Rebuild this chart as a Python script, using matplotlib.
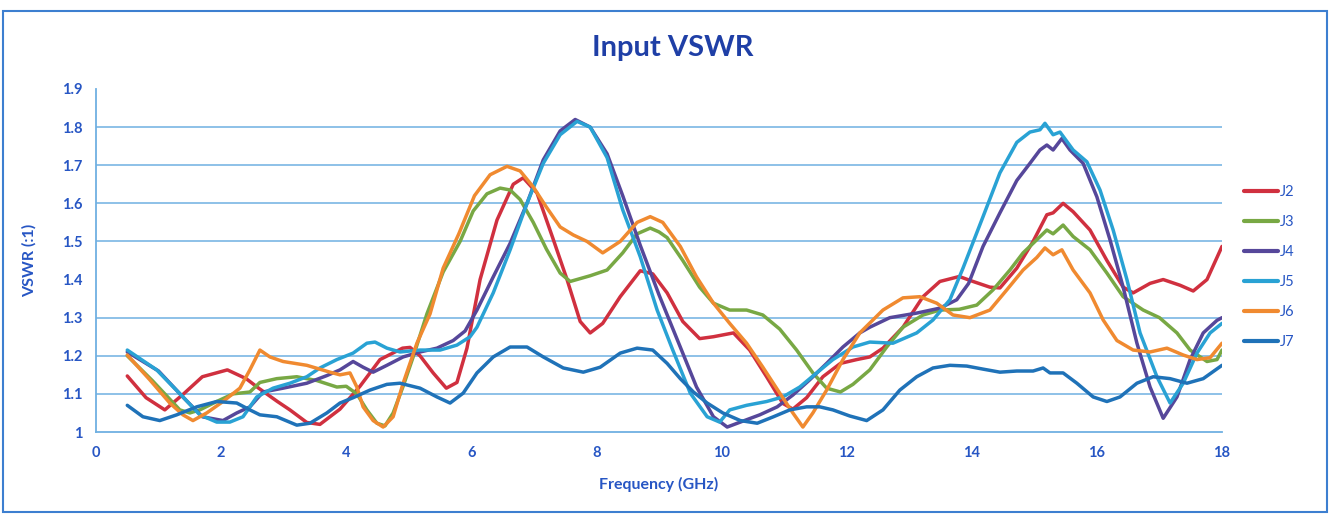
import matplotlib
matplotlib.use("Agg")
import matplotlib.pyplot as plt
from matplotlib.patches import Rectangle

# Input VSWR of six ports J2..J7 across 0.5-18 GHz

j2_f = [0.5, 0.8, 1.1, 1.4, 1.7, 2.1, 2.4, 2.6, 2.9, 3.1, 3.37, 3.58, 3.9, 4.22, 4.54, 4.9, 5.02, 5.18,
        5.39, 5.6, 5.77, 5.93, 6.14, 6.41, 6.67, 6.83, 7.05, 7.3, 7.53, 7.74, 7.9, 8.1, 8.38, 8.7, 8.9,
        9.13, 9.38, 9.65, 9.87, 10.19, 10.45, 10.72, 10.98, 11.14, 11.36, 11.62, 11.9, 12.16, 12.37,
        12.58, 12.9, 13.22, 13.49, 13.8, 14.02, 14.29, 14.45, 14.72, 14.98, 15.2, 15.3, 15.46, 15.62,
        15.89, 16.16, 16.42, 16.58, 16.85, 17.06, 17.33, 17.54, 17.76, 18.0]
j2_v = [1.147, 1.09, 1.058, 1.10, 1.145, 1.163, 1.14, 1.115, 1.08, 1.058, 1.025, 1.02, 1.06, 1.12, 1.19,
        1.22, 1.222, 1.20, 1.155, 1.115, 1.13, 1.22, 1.40, 1.556, 1.65, 1.667, 1.627, 1.51, 1.40, 1.29,
        1.26, 1.285, 1.355, 1.423, 1.415, 1.365, 1.29, 1.245, 1.25, 1.26, 1.215, 1.145, 1.075, 1.06,
        1.09, 1.145, 1.18, 1.19, 1.197, 1.22, 1.275, 1.355, 1.395, 1.408, 1.395, 1.38, 1.378, 1.43,
        1.50, 1.57, 1.575, 1.60, 1.578, 1.53, 1.45, 1.38, 1.365, 1.39, 1.40, 1.385, 1.37, 1.40, 1.487]

j3_f = [0.5, 0.9, 1.34, 1.5, 1.66, 1.93, 2.19, 2.46, 2.62, 2.89, 3.21, 3.53, 3.85, 4.0, 4.17, 4.33, 4.49,
        4.62, 4.75, 4.91, 5.07, 5.29, 5.55, 5.82, 6.03, 6.25, 6.46, 6.62, 6.78, 6.99, 7.2, 7.42, 7.58,
        7.9, 8.17, 8.42, 8.65, 8.86, 9.0, 9.13, 9.38, 9.65, 9.87, 10.13, 10.4, 10.66, 10.93, 11.2,
        11.46, 11.68, 11.9, 12.1, 12.37, 12.64, 12.9, 13.22, 13.49, 13.8, 14.08, 14.34, 14.61, 14.82,
        14.98, 15.2, 15.3, 15.46, 15.62, 15.89, 16.16, 16.42, 16.74, 17.0, 17.28, 17.49, 17.76, 17.92,
        18.0]
j3_v = [1.20, 1.135, 1.058, 1.05, 1.058, 1.08, 1.10, 1.105, 1.13, 1.14, 1.145, 1.135, 1.118, 1.12,
        1.10, 1.058, 1.023, 1.016, 1.05, 1.12, 1.197, 1.31, 1.42, 1.50, 1.58, 1.625, 1.64, 1.635, 1.61,
        1.55, 1.48, 1.417, 1.395, 1.41, 1.425, 1.47, 1.52, 1.535, 1.525, 1.51, 1.45, 1.38, 1.338, 1.32,
        1.32, 1.307, 1.27, 1.215, 1.155, 1.115, 1.105, 1.125, 1.163, 1.223, 1.275, 1.307, 1.32, 1.322,
        1.333, 1.373, 1.425, 1.47, 1.495, 1.53, 1.52, 1.543, 1.513, 1.478, 1.417, 1.355, 1.32, 1.30,
        1.26, 1.215, 1.185, 1.19, 1.215]

j4_f = [0.5, 1.0, 1.4, 1.7, 2.03, 2.25, 2.46, 2.67, 2.99, 3.37, 3.69, 3.9, 4.11, 4.27, 4.43, 4.65, 4.91,
        5.18, 5.45, 5.71, 5.9, 6.09, 6.35, 6.62, 6.89, 7.15, 7.42, 7.66, 7.9, 8.17, 8.42, 8.7, 9.0,
        9.34, 9.6, 9.87, 10.09, 10.3, 10.61, 10.89, 11.14, 11.41, 11.68, 11.94, 12.21, 12.37, 12.69,
        13.12, 13.49, 13.76, 13.95, 14.18, 14.45, 14.72, 14.93, 15.09, 15.2, 15.3, 15.44, 15.57, 15.78,
        16.0, 16.21, 16.42, 16.64, 16.85, 17.06, 17.28, 17.49, 17.7, 17.92, 18.0]
j4_v = [1.21, 1.16, 1.09, 1.04, 1.03, 1.05, 1.066, 1.105, 1.115, 1.128, 1.148, 1.163, 1.185, 1.17,
        1.157, 1.175, 1.197, 1.21, 1.22, 1.24, 1.265, 1.32, 1.407, 1.495, 1.60, 1.714, 1.79, 1.82, 1.80,
        1.73, 1.62, 1.49, 1.36, 1.223, 1.118, 1.04, 1.013, 1.026, 1.045, 1.066, 1.097, 1.137, 1.18,
        1.223, 1.26, 1.275, 1.30, 1.312, 1.325, 1.347, 1.39, 1.487, 1.575, 1.66, 1.705, 1.74, 1.753,
        1.74, 1.77, 1.74, 1.705, 1.617, 1.504, 1.38, 1.233, 1.118, 1.036, 1.092, 1.19, 1.26, 1.293, 1.30]

j5_f = [0.5, 0.97, 1.39, 1.66, 1.93, 2.14, 2.35, 2.57, 2.83, 3.1, 3.37, 3.58, 3.85, 4.11, 4.33, 4.46,
        4.65, 4.86, 5.18, 5.5, 5.77, 5.98, 6.09, 6.35, 6.62, 6.89, 7.15, 7.42, 7.69, 7.9, 8.17, 8.42,
        8.7, 8.97, 9.22, 9.5, 9.77, 9.97, 10.13, 10.4, 10.72, 10.98, 11.25, 11.52, 11.78, 12.1, 12.37,
        12.74, 13.12, 13.38, 13.65, 13.86, 14.18, 14.45, 14.72, 14.93, 15.09, 15.17, 15.3, 15.41, 15.62,
        15.84, 16.05, 16.26, 16.48, 16.69, 16.96, 17.17, 17.38, 17.6, 17.81, 18.0]
j5_v = [1.215, 1.163, 1.092, 1.045, 1.026, 1.026, 1.04, 1.092, 1.115, 1.128, 1.145, 1.168, 1.19,
        1.207, 1.233, 1.236, 1.22, 1.21, 1.215, 1.215, 1.228, 1.25, 1.275, 1.365, 1.478, 1.60, 1.705,
        1.78, 1.815, 1.80, 1.72, 1.583, 1.46, 1.32, 1.215, 1.102, 1.04, 1.026, 1.058, 1.07, 1.08, 1.092,
        1.118, 1.155, 1.19, 1.223, 1.236, 1.233, 1.26, 1.294, 1.347, 1.43, 1.565, 1.68, 1.76, 1.787,
        1.793, 1.81, 1.78, 1.787, 1.74, 1.709, 1.635, 1.53, 1.40, 1.26, 1.145, 1.076, 1.128, 1.207,
        1.26, 1.285]

j6_f = [0.5, 0.86, 1.18, 1.39, 1.55, 1.77, 2.03, 2.3, 2.46, 2.62, 2.78, 2.99, 3.37, 3.74, 3.9, 4.06,
        4.17, 4.27, 4.43, 4.59, 4.75, 4.91, 5.13, 5.34, 5.55, 5.8, 6.05, 6.3, 6.57, 6.78, 6.99, 7.2,
        7.42, 7.63, 7.85, 8.1, 8.38, 8.65, 8.86, 9.06, 9.34, 9.6, 9.87, 10.13, 10.4, 10.66, 10.93, 11.14,
        11.3, 11.46, 11.68, 11.94, 12.21, 12.58, 12.9, 13.17, 13.44, 13.7, 13.97, 14.29, 14.56, 14.82,
        15.04, 15.17, 15.3, 15.44, 15.62, 15.89, 16.1, 16.32, 16.58, 16.85, 17.12, 17.38, 17.6, 17.81,
        18.0]
j6_v = [1.202, 1.137, 1.076, 1.045, 1.03, 1.05, 1.08, 1.115, 1.163, 1.215, 1.197, 1.185, 1.175, 1.157,
        1.15, 1.155, 1.118, 1.066, 1.03, 1.013, 1.04, 1.128, 1.233, 1.31, 1.43, 1.52, 1.62, 1.675, 1.697,
        1.685, 1.643, 1.59, 1.538, 1.517, 1.50, 1.47, 1.50, 1.55, 1.565, 1.55, 1.487, 1.407, 1.338,
        1.285, 1.233, 1.17, 1.102, 1.05, 1.013, 1.05, 1.11, 1.19, 1.26, 1.32, 1.352, 1.355, 1.338, 1.307,
        1.30, 1.32, 1.373, 1.425, 1.458, 1.483, 1.465, 1.478, 1.425, 1.365, 1.294, 1.24, 1.215, 1.21,
        1.22, 1.202, 1.19, 1.195, 1.233]

j7_f = [0.5, 0.75, 1.02, 1.29, 1.61, 1.93, 2.25, 2.46, 2.62, 2.89, 3.21, 3.42, 3.69, 3.9, 4.11, 4.38,
        4.65, 4.86, 5.18, 5.45, 5.66, 5.87, 6.09, 6.35, 6.62, 6.89, 7.15, 7.47, 7.79, 8.06, 8.38, 8.65,
        8.9, 9.13, 9.34, 9.55, 9.77, 10.02, 10.3, 10.57, 10.83, 11.09, 11.36, 11.57, 11.78, 12.05,
        12.32, 12.58, 12.85, 13.12, 13.38, 13.65, 13.92, 14.18, 14.45, 14.72, 14.98, 15.14, 15.25,
        15.46, 15.68, 15.94, 16.16, 16.37, 16.64, 16.9, 17.17, 17.44, 17.7, 18.0]
j7_v = [1.07, 1.04, 1.03, 1.045, 1.066, 1.08, 1.076, 1.058, 1.045, 1.04, 1.018, 1.023, 1.05, 1.076,
        1.09, 1.11, 1.125, 1.128, 1.115, 1.092, 1.076, 1.102, 1.155, 1.197, 1.223, 1.223, 1.197, 1.168,
        1.157, 1.17, 1.207, 1.22, 1.215, 1.18, 1.14, 1.105, 1.076, 1.05, 1.03, 1.023, 1.04, 1.058,
        1.066, 1.066, 1.058, 1.042, 1.03, 1.058, 1.11, 1.145, 1.168, 1.175, 1.173, 1.165, 1.157, 1.16,
        1.16, 1.168, 1.155, 1.155, 1.128, 1.092, 1.08, 1.092, 1.128, 1.145, 1.14, 1.128, 1.14, 1.175]

labels = ["J2", "J3", "J4", "J5", "J6", "J7"]
colors = ["#d0303f", "#78a844", "#56479a", "#29a2d4", "#f08a30", "#1f72b8"]
series = [(j2_f, j2_v), (j3_f, j3_v), (j4_f, j4_v), (j5_f, j5_v), (j6_f, j6_v), (j7_f, j7_v)]

x_ticks = list(range(0, 19, 2))
y_ticks = [1.0, 1.1, 1.2, 1.3, 1.4, 1.5, 1.6, 1.7, 1.8, 1.9]
y_tick_labels = ["1", "1.1", "1.2", "1.3", "1.4", "1.5", "1.6", "1.7", "1.8", "1.9"]

text_blue = "#2756c4"
grid_blue = "#6fb0e2"

plt.rcParams['font.family'] = ['Lato', 'DejaVu Sans']

fig = plt.figure(figsize=(13.3, 5.15), dpi=100)
ax = fig.add_axes([96 / 1330, 83 / 515, 1126 / 1330, 343 / 515])

# outer frame of the chart
fig.patches.append(Rectangle((3 / 1330, 3 / 515), 1324 / 1330, 501 / 515, transform=fig.transFigure,
                             fill=False, edgecolor="#3d7fd0", linewidth=1.5))

# gridlines (the 1.4 line is missing in the original print)
for yv in y_ticks[1:-1]:
    if abs(yv - 1.4) < 1e-6:
        continue
    ax.axhline(yv, color=grid_blue, linewidth=1.1, zorder=1)

for (f, v), lab, col in zip(series, labels, colors):
    ax.plot(f, v, color=col, linewidth=2.5, label=lab, zorder=3, solid_capstyle="round")

ax.set_xlim(0, 18)
ax.set_ylim(1.0, 1.9)
ax.set_xticks(x_ticks)
ax.set_yticks(y_ticks)
ax.set_yticklabels(y_tick_labels)
ax.tick_params(length=0, colors=text_blue, labelsize=10.5, pad=10)
for t in ax.get_xticklabels() + ax.get_yticklabels():
    t.set_fontweight("bold")

for side in ["top", "right"]:
    ax.spines[side].set_visible(False)
ax.spines["left"].set_color(grid_blue)
ax.spines["bottom"].set_color(grid_blue)
ax.spines["left"].set_linewidth(1.3)
ax.spines["bottom"].set_linewidth(1.3)

ax.set_xlabel("Frequency (GHz)", color=text_blue, fontsize=11.5, fontweight="bold", labelpad=12)
ax.set_ylabel("VSWR (:1)", color=text_blue, fontsize=11.5, fontweight="bold", labelpad=18)
fig.text(673 / 1330, 1 - 48 / 515, "Input VSWR", color="#1f3fa6", fontsize=21, fontweight="bold",
         ha="center", va="center")

leg = fig.legend(loc="upper left", bbox_to_anchor=(1231 / 1330, 1 - 172 / 515), frameon=False,
                 handlelength=2.3, handletextpad=0.15, labelspacing=1.1, fontsize=10.5)
for t in leg.get_texts():
    t.set_color(text_blue)
for h in leg.get_lines():
    h.set_linewidth(3)

plt.savefig("out.png", dpi=100)
